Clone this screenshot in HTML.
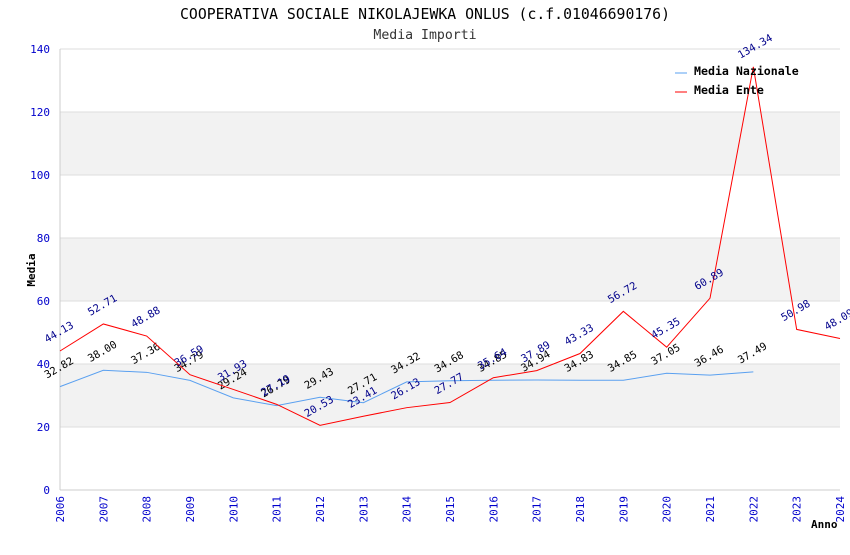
<!DOCTYPE html>
<html><head><meta charset="utf-8"><style>
body{margin:0;background:#fff;}
svg text{font-family:"DejaVu Sans Mono","Liberation Mono",monospace;}
</style></head><body>
<svg id="c" width="850" height="550">
<text x="425" y="19" text-anchor="middle" font-size="14.8" fill="#000">COOPERATIVA SOCIALE NIKOLAJEWKA ONLUS (c.f.01046690176)</text>
<text x="425" y="39" text-anchor="middle" font-size="13.2" fill="#333">Media Importi</text>
<g id="grid"></g><g id="axes"></g><g id="series"></g>
<text x="35" y="270" transform="rotate(-90 35 270)" text-anchor="middle" font-size="11" font-weight="bold">Media</text>
<text x="811" y="528" font-size="11" font-weight="bold">Anno</text>
<g>
<line x1="675" y1="73" x2="687" y2="73" stroke="#5aa0f0"/>
<text x="694" y="75" font-size="11.6" font-weight="bold">Media Nazionale</text>
<line x1="675" y1="92" x2="687" y2="92" stroke="#ff0000"/>
<text x="694" y="94" font-size="11.6" font-weight="bold">Media Ente</text>
</g>
</svg>
<script>
const years=[2006,2007,2008,2009,2010,2011,2012,2013,2014,2015,2016,2017,2018,2019,2020,2021,2022,2023,2024];
const nazionale=[32.82,38.00,37.36,34.79,29.24,26.79,29.43,27.71,34.32,34.68,34.85,34.94,34.83,34.85,37.05,36.46,37.49];
const ente=[44.13,52.71,48.88,36.59,31.93,27.19,20.53,23.41,26.13,27.77,35.64,37.89,43.33,56.72,45.35,60.89,134.34,50.98,48.09];
const yTicks=[0,20,40,60,80,100,120,140];
const L=60,R=840,T=49,B=490,YMAX=140;
const X=i=>L+(R-L)*i/(years.length-1);
const Y=v=>B-(B-T)*v/YMAX;
const NS="http://www.w3.org/2000/svg";
function mk(t,p,a){const e=document.createElementNS(NS,t);for(const k in a)e.setAttribute(k,a[k]);p.appendChild(e);return e;}
const grid=document.getElementById('grid'),axes=document.getElementById('axes'),ser=document.getElementById('series');
for(let i=0;i<yTicks.length-1;i++){
 if(i%2===1){const r=mk('rect',grid,{x:L,y:Y(yTicks[i+1]),width:R-L,height:Y(yTicks[i])-Y(yTicks[i+1]),fill:'#f2f2f2'});
 
 }
}
yTicks.forEach(v=>{
 const l=mk('line',grid,{x1:L,x2:R,y1:Y(v),y2:Y(v),stroke:'#dddddd'});
 
 
 const t=mk('text',axes,{x:L-10,y:Y(v)+4,'text-anchor':'end','font-size':11,fill:'#0000cc'});
 t.textContent=v;
 
 
});
const ax=mk('line',axes,{x1:L,x2:L,y1:T,y2:B,stroke:'#ccc'});


const bx=mk('line',axes,{x1:L,x2:R,y1:B,y2:B,stroke:'#ccc'});


years.forEach((y,i)=>{
 const x=X(i);
 const t=mk('text',axes,{x:x+4,y:B+6,'text-anchor':'end','font-size':11,fill:'#0000cc',transform:`rotate(-90 ${x+4} ${B+6})`});
 t.textContent=y;
 
 
});
function series(vals,color,lc,name){
 const p=mk('polyline',ser,{points:vals.map((v,i)=>X(i)+','+Y(v)).join(' '),fill:'none',stroke:color,'stroke-width':1});
 
 
 vals.forEach((v,i)=>{
  const x=X(i)-13,y=Y(v)-8;
  const t=mk('text',ser,{x:x,y:y,'font-size':10.5,fill:lc,transform:`rotate(-30 ${x} ${y})`});
  t.textContent=v.toFixed(2);
  
  
 });
}
series(nazionale,'#5aa0f0','#000','nazionale');
series(ente,'#ff0000','#00008b','ente');
</script>
</body></html>
